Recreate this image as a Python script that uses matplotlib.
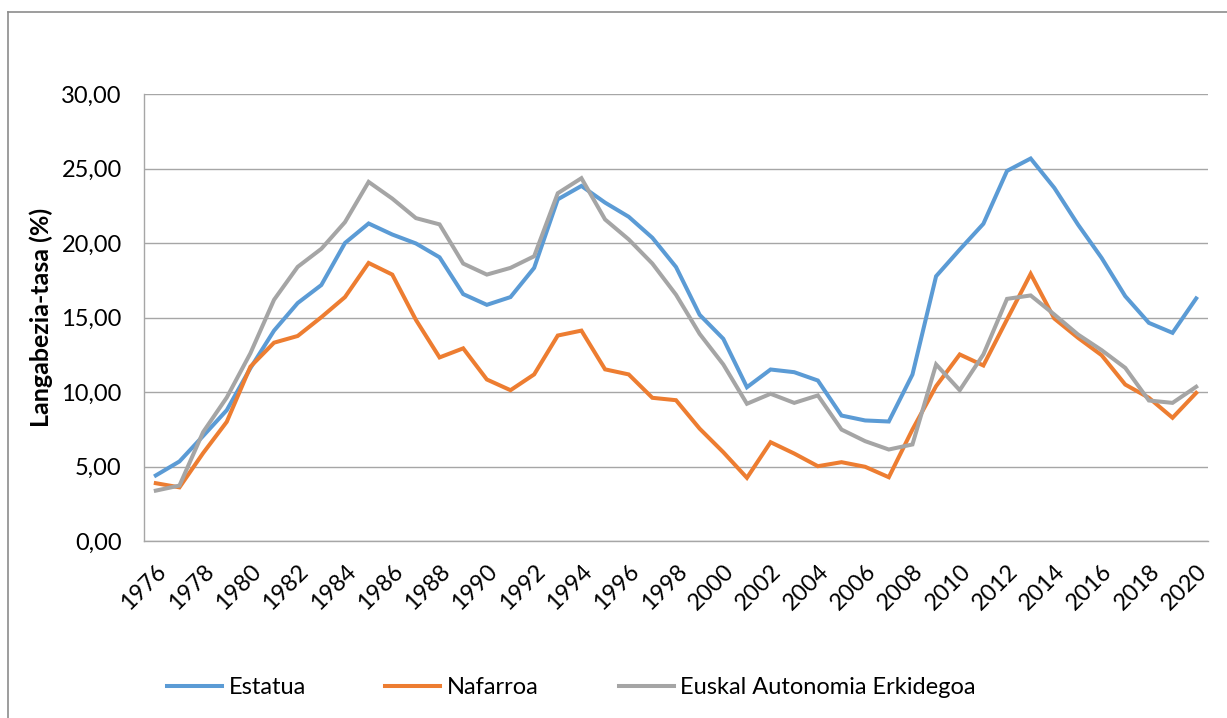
import matplotlib
matplotlib.use("Agg")
import matplotlib.pyplot as plt
from matplotlib.lines import Line2D
from matplotlib.ticker import FuncFormatter, MultipleLocator

years = list(range(1976, 2021))
estatua = [4.40, 5.34, 7.05, 8.78, 11.6, 14.12, 15.97, 17.18, 20.0, 21.31,
           20.57, 19.97, 19.04, 16.57, 15.85, 16.37, 18.33, 22.93, 23.83, 22.71,
           21.76, 20.35, 18.39, 15.18, 13.57, 10.32, 11.51, 11.33, 10.77, 8.42,
           8.09, 8.02, 11.17, 17.77, 19.56, 21.29, 24.84, 25.67, 23.70, 21.24,
           19.00, 16.43, 14.64, 13.97, 16.28]
nafarroa = [3.88, 3.60, 5.90, 8.00, 11.70, 13.31, 13.76, 15.02, 16.37, 18.66,
            17.88, 14.84, 12.32, 12.93, 10.84, 10.12, 11.18, 13.79, 14.12, 11.52,
            11.18, 9.61, 9.45, 7.54, 5.96, 4.24, 6.63, 5.87, 5.02, 5.29,
            4.98, 4.28, 7.48, 10.39, 12.52, 11.78, 14.87, 17.93, 14.93, 13.64,
            12.47, 10.50, 9.61, 8.27, 9.94]
eae = [3.38, 3.72, 7.31, 9.63, 12.6, 16.19, 18.4, 19.61, 21.4, 24.1,
       22.98, 21.67, 21.25, 18.62, 17.88, 18.33, 19.11, 23.34, 24.35, 21.58,
       20.24, 18.62, 16.53, 13.90, 11.85, 9.21, 9.88, 9.27, 9.77, 7.48,
       6.70, 6.14, 6.48, 11.85, 10.12, 12.52, 16.25, 16.48, 15.20, 13.86,
       12.81, 11.62, 9.43, 9.27, 10.35]
series_names = ["Estatua", "Nafarroa", "Euskal Autonomia Erkidegoa"]
colors = ["#5B9BD5", "#ED7D31", "#A5A5A5"]
ylabel = "Langabezia-tasa (%)"

plt.rcParams['font.family'] = ['Lato', 'DejaVu Sans']

fig = plt.figure(figsize=(12.27, 7.18), dpi=100)
W, H = 1227, 718
ax = fig.add_axes([144 / W, (H - 541) / H, (1208 - 144) / W, (541 - 94) / H])

x = list(range(len(years)))
lines = []
for vals, name, c in zip([estatua, nafarroa, eae], series_names, colors):
    ln, = ax.plot(x, vals, color=c, lw=2.9, label=name, solid_joinstyle='miter', zorder=3)
    lines.append(ln)

ax.set_xlim(-0.5, len(years) - 0.5)
ax.set_ylim(0, 30)
ax.yaxis.set_major_locator(MultipleLocator(5))
ax.yaxis.set_major_formatter(FuncFormatter(lambda v, p: f"{v:.2f}".replace('.', ',')))
ax.grid(axis='y', color='#A6A6A6', lw=1.0, zorder=0)
ax.set_xticks(x[::2])
ax.set_xticklabels([str(y) for y in years[::2]], rotation=45, ha='right',
                   rotation_mode='anchor', fontsize=16.8)
ax.tick_params(axis='y', length=0, labelsize=17, pad=16)
ax.tick_params(axis='x', length=0, pad=14)
for s in ['top', 'right']:
    ax.spines[s].set_visible(False)
for s in ['bottom', 'left']:
    ax.spines[s].set_color('#A6A6A6')
    ax.spines[s].set_linewidth(1.0)
ax.set_ylabel(ylabel, fontsize=18, fontweight='bold', labelpad=6)

# legend entries, one per series, at the reference positions
legend_x = [167, 385, 619]
for ln, lx in zip(lines, legend_x):
    fig.legend(handles=[ln], loc='center left', bbox_to_anchor=(lx / W, (H - 688) / H),
               frameon=False, fontsize=17, handlelength=2.35, handletextpad=0.25,
               borderpad=0, borderaxespad=0)

# outer chart border
fig.add_artist(Line2D([8 / W, 8 / W], [0, 1 - 12 / H], color='#8C8C8C', lw=1.2,
                      transform=fig.transFigure))
fig.add_artist(Line2D([8 / W, 1], [1 - 12 / H, 1 - 12 / H], color='#8C8C8C', lw=1.2,
                      transform=fig.transFigure))

fig.savefig("out.png", dpi=100)
